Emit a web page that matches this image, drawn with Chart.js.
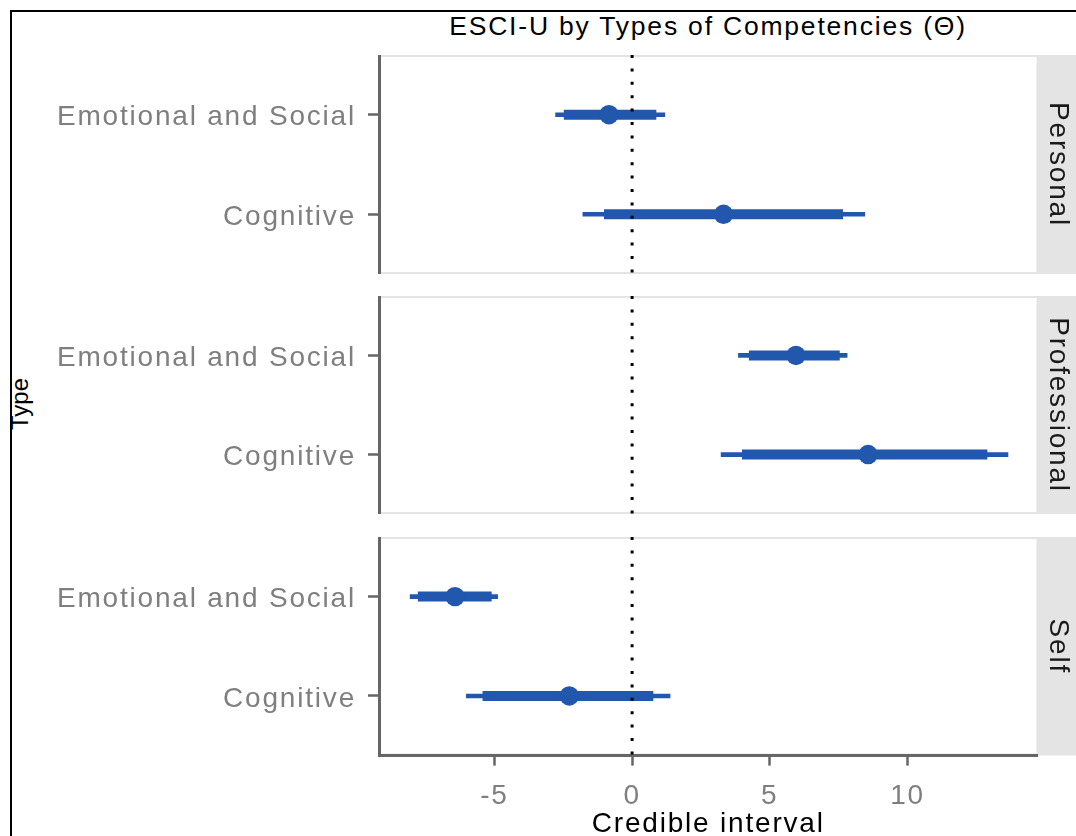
<!DOCTYPE html>
<html>
<head>
<meta charset="utf-8">
<script src="https://cdn.jsdelivr.net/npm/chart.js@4.4.0/dist/chart.umd.min.js"></script>
<style>
  html, body { margin: 0; padding: 0; background: #fff; }
  #page { position: relative; width: 1076px; height: 836px; overflow: hidden; background: #fff;
          font-family: "Liberation Sans", Arial, sans-serif; letter-spacing: 1.8px; }
  .panel { position: absolute; left: 0; width: 1076px; }
  #frame { position: absolute; left: 10px; top: 10px; width: 1200px; height: 1000px;
           border-left: 2px solid #000; border-top: 2px solid #000; z-index: 5; }
  #title { position: absolute; left: 379px; width: 658px; top: 13px; text-align: center;
           font-size: 26.5px; line-height: 26.5px; color: #000; white-space: nowrap; }
  #ytitle { position: absolute; left: -30px; top: 391.5px; width: 100px; height: 24px; line-height: 24px;
            font-size: 24px; letter-spacing: 0; text-align: center; color: #000; transform: rotate(-90deg); }
</style>
</head>
<body>
<div id="page">
  <div id="frame"></div>
  <div id="title">ESCI-U by Types of Competencies (Θ)</div>
  <div id="ytitle">Type</div>
  <div class="panel" style="top:55px;height:219px"><canvas id="p0"></canvas></div>
  <div class="panel" style="top:296px;height:218px"><canvas id="p1"></canvas></div>
  <div class="panel" style="top:537px;height:299px"><canvas id="p2"></canvas></div>
</div>
<script>
// ---- data ----
const categories = ['Emotional and Social', 'Cognitive'];
const panels     = ['Personal', 'Professional', 'Self'];
// one row per panel, one value per category
const medians = [[-0.84, 3.32], [5.95, 8.57], [-6.43, -2.28]];
const innerLo = [[-2.48, -1.02], [4.24, 3.99], [-7.78, -5.43]];
const innerHi = [[ 0.88,  7.66], [7.54, 12.90], [-5.10,  0.77]];
const outerLo = [[-2.79, -1.80], [3.85, 3.22], [-8.07, -6.03]];
const outerHi = [[ 1.20,  8.46], [7.82, 13.66], [-4.87,  1.39]];
const xTicks  = [-5, 0, 5, 10];
const xLimits = [-9.19, 14.72];

// ---- style ----
const FONT   = '"Liberation Sans", Arial, sans-serif';
const BLUE   = '#2157ad';
const AXIS   = '#666666';
const LABEL  = '#7f7f7f';
const STRIP  = '#e4e4e4';

// strip + panel border, letter spacing for all canvas text
const facetPlugin = {
  id: 'facet',
  beforeDraw(chart, args, opts) {
    const { ctx, chartArea: a } = chart;
    ctx.letterSpacing = '1.8px';
    ctx.save();
    ctx.strokeStyle = STRIP;
    ctx.lineWidth = 2;
    ctx.strokeRect(a.left, a.top + 1, a.right - a.left, a.bottom - a.top - 2);
    ctx.fillStyle = STRIP;
    ctx.fillRect(a.right, a.top, chart.width - a.right, a.bottom - a.top);
    ctx.translate((a.right + chart.width) / 2 + 0.5, (a.top + a.bottom) / 2);
    ctx.rotate(Math.PI / 2);
    ctx.fillStyle = '#1a1a1a';
    ctx.font = '28px ' + FONT;
    ctx.textAlign = 'center';
    ctx.textBaseline = 'middle';
    ctx.fillText(opts.label, 0, 0);
    ctx.restore();
  }
};

function segment(lo, hi, k, width) {
  return {
    data: [{ x: lo[k], y: k + 1 }, { x: hi[k], y: k + 1 }],
    showLine: true, borderColor: BLUE, borderWidth: width,
    borderCapStyle: 'butt', pointRadius: 0
  };
}

function noPad(s) {
  s.paddingTop = 0; s.paddingBottom = 0; s.paddingLeft = 0; s.paddingRight = 0;
}

function makePanel(id, p, last) {
  // index 0 is drawn on top
  const datasets = [
    { data: [{ x: 0, y: 0.4 }, { x: 0, y: 2.6 }], showLine: true, borderColor: '#000',
      borderWidth: 3, borderDash: [3, 10.4], borderCapStyle: 'butt', pointRadius: 0 },
    { data: categories.map((c, k) => ({ x: medians[p][k], y: k + 1 })),
      pointRadius: 9.7, pointBackgroundColor: BLUE, pointBorderWidth: 0 },
    ...categories.map((c, k) => segment(innerLo[p], innerHi[p], k, 10)),
    ...categories.map((c, k) => segment(outerLo[p], outerHi[p], k, 4.7))
  ];

  new Chart(document.getElementById(id), {
    type: 'scatter',
    data: { datasets },
    plugins: [facetPlugin],
    options: {
      responsive: true, maintainAspectRatio: false, animation: false, events: [],
      layout: { autoPadding: false, padding: { left: 0, right: 38.5, top: 0, bottom: 0 } },
      plugins: { legend: { display: false }, tooltip: { enabled: false }, facet: { label: panels[p] } },
      scales: {
        x: {
          type: 'linear', min: xLimits[0], max: xLimits[1], display: last,
          afterBuildTicks: s => { s.ticks = xTicks.map(v => ({ value: v })); },
          ticks: { color: LABEL, font: { family: FONT, size: 28 }, padding: 14, maxRotation: 0,
                   callback: v => (v < 0 ? '-' + Math.abs(v) : String(v)) },
          grid: { drawOnChartArea: false, tickLength: 10, tickColor: AXIS, tickWidth: 2.5 },
          border: { color: AXIS, width: 3 },
          title: { display: true, text: 'Credible interval', color: '#000',
                   font: { family: FONT, size: 28 }, padding: { top: 0, bottom: -5 } },
          afterFit: s => { noPad(s); s.height = last ? 80.4 : 0; }
        },
        y: {
          type: 'linear', reverse: true, min: 0.4, max: 2.6,
          afterBuildTicks: s => { s.ticks = categories.map((c, k) => ({ value: k + 1 })); },
          ticks: { color: LABEL, font: { family: FONT, size: 28 }, padding: 12, labelOffset: 3,
                   callback: v => categories[v - 1] },
          grid: { drawOnChartArea: false, tickLength: 11, tickColor: AXIS, tickWidth: 2.5 },
          border: { color: AXIS, width: 3 },
          afterFit: s => { noPad(s); s.width = 379; }
        }
      }
    }
  });
}

makePanel('p0', 0, false);
makePanel('p1', 1, false);
makePanel('p2', 2, true);
</script>
</body>
</html>
